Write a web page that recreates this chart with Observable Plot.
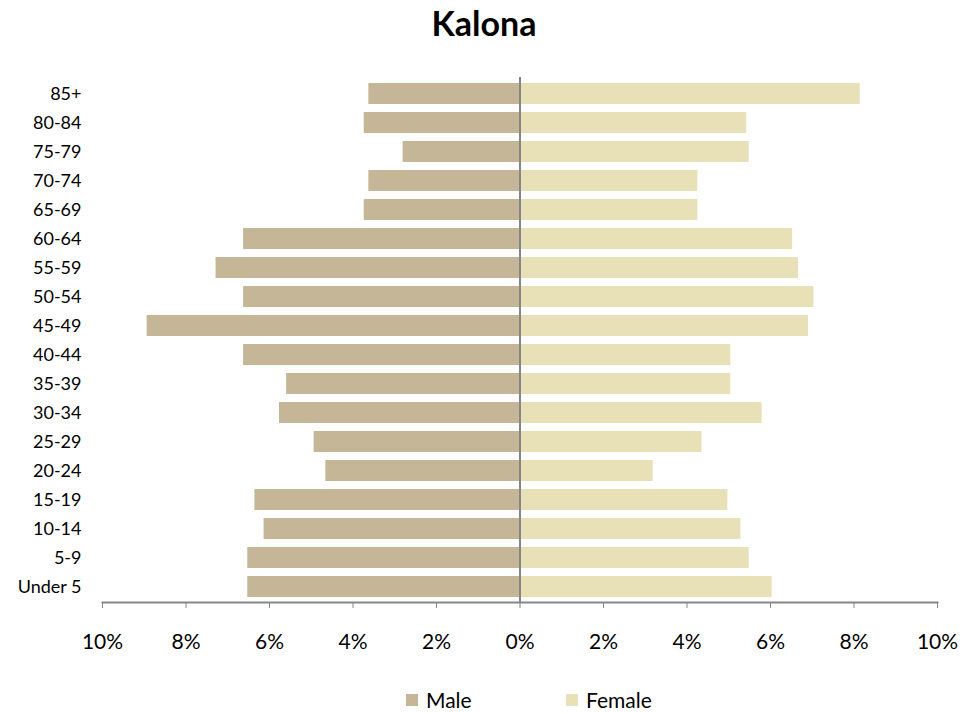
<!DOCTYPE html>
<html>
<head>
<meta charset="utf-8">
<script src="https://cdn.jsdelivr.net/npm/d3@7"></script>
<script src="https://cdn.jsdelivr.net/npm/@observablehq/plot@0.6"></script>
<style>
  body { margin: 0; background: #fff; font-family: Lato, "Open Sans", sans-serif; position: relative; width: 979px; height: 713px; overflow: hidden; }
  #title { position: absolute; top: 6px; left: 0; width: 968px; text-align: center; font-weight: bold; font-size: 34px; line-height: 34px; color: #000; }
  #chart { position: absolute; top: 60px; left: 0; }
  #chart svg { display: block; }
  #legend { position: absolute; top: 688px; left: 406px; font-size: 21px; line-height: 24px; color: #000; }
  .item { position: absolute; top: 0; display: flex; align-items: center; gap: 8px; white-space: nowrap; }
  .sw { width: 12px; height: 12px; display: inline-block; }
</style>
</head>
<body>
<div id="title">Kalona</div>
<div id="chart"></div>
<div id="legend"></div>
<script>
const ages = ["Under 5","5-9","10-14","15-19","20-24","25-29","30-34","35-39","40-44","45-49","50-54","55-59","60-64","65-69","70-74","75-79","80-84","85+"];
const male = [6.52, 6.52, 6.13, 6.35, 4.65, 4.93, 5.76, 5.59, 6.62, 8.93, 6.62, 7.28, 6.62, 3.73, 3.62, 2.80, 3.73, 3.62];
const female = [6.04, 5.49, 5.29, 4.98, 3.19, 4.36, 5.80, 5.05, 5.05, 6.91, 7.04, 6.67, 6.53, 4.26, 4.26, 5.49, 5.43, 8.15];
const xTicks = [-10, -8, -6, -4, -2, 0, 2, 4, 6, 8, 10];
const series = ["Male", "Female"];
const colors = ["#C4B696", "#E8E1B8"];

const rows = [];
ages.forEach((a, i) => {
  rows.push({age: a, sex: "Male", v: -male[i]});
  rows.push({age: a, sex: "Female", v: female[i]});
});

const chart = Plot.plot({
  width: 979,
  height: 600,
  marginTop: 17,
  marginBottom: 58,
  marginLeft: 102,
  marginRight: 42,
  style: { fontFamily: "Lato, 'Open Sans', sans-serif", fontSize: "18px", color: "#000", background: "#fff" },
  x: { domain: [-10, 10], ticks: xTicks, tickFormat: d => Math.abs(d) + "%" },
  y: { domain: ages.slice().reverse(), paddingInner: 0.28, paddingOuter: 0.14 },
  color: { domain: series, range: colors },
  marks: [
    Plot.barX(rows, { y: "age", x1: 0, x2: "v", fill: "sex" }),
    Plot.ruleX([0], { stroke: "#868686", strokeWidth: 2 }),
    Plot.frame({ anchor: "bottom", stroke: "#868686", strokeWidth: 2 }),
    Plot.axisX({ ticks: xTicks, tickFormat: d => Math.abs(d) + "%", tickSize: 6, tickPadding: 26, stroke: "#868686", fontSize: 21, label: null }),
    Plot.axisY({ tickSize: 0, tickPadding: 21, fontSize: 18, label: null })
  ]
});
document.getElementById("chart").appendChild(chart);

const legend = document.getElementById("legend");
const offsets = [0, 160];
series.forEach((s, i) => {
  const it = document.createElement("div");
  it.className = "item";
  it.style.left = offsets[i] + "px";
  const sw = document.createElement("span");
  sw.className = "sw";
  sw.style.background = colors[i];
  const t = document.createElement("span");
  t.textContent = s;
  it.appendChild(sw); it.appendChild(t);
  legend.appendChild(it);
});
</script>
</body>
</html>
